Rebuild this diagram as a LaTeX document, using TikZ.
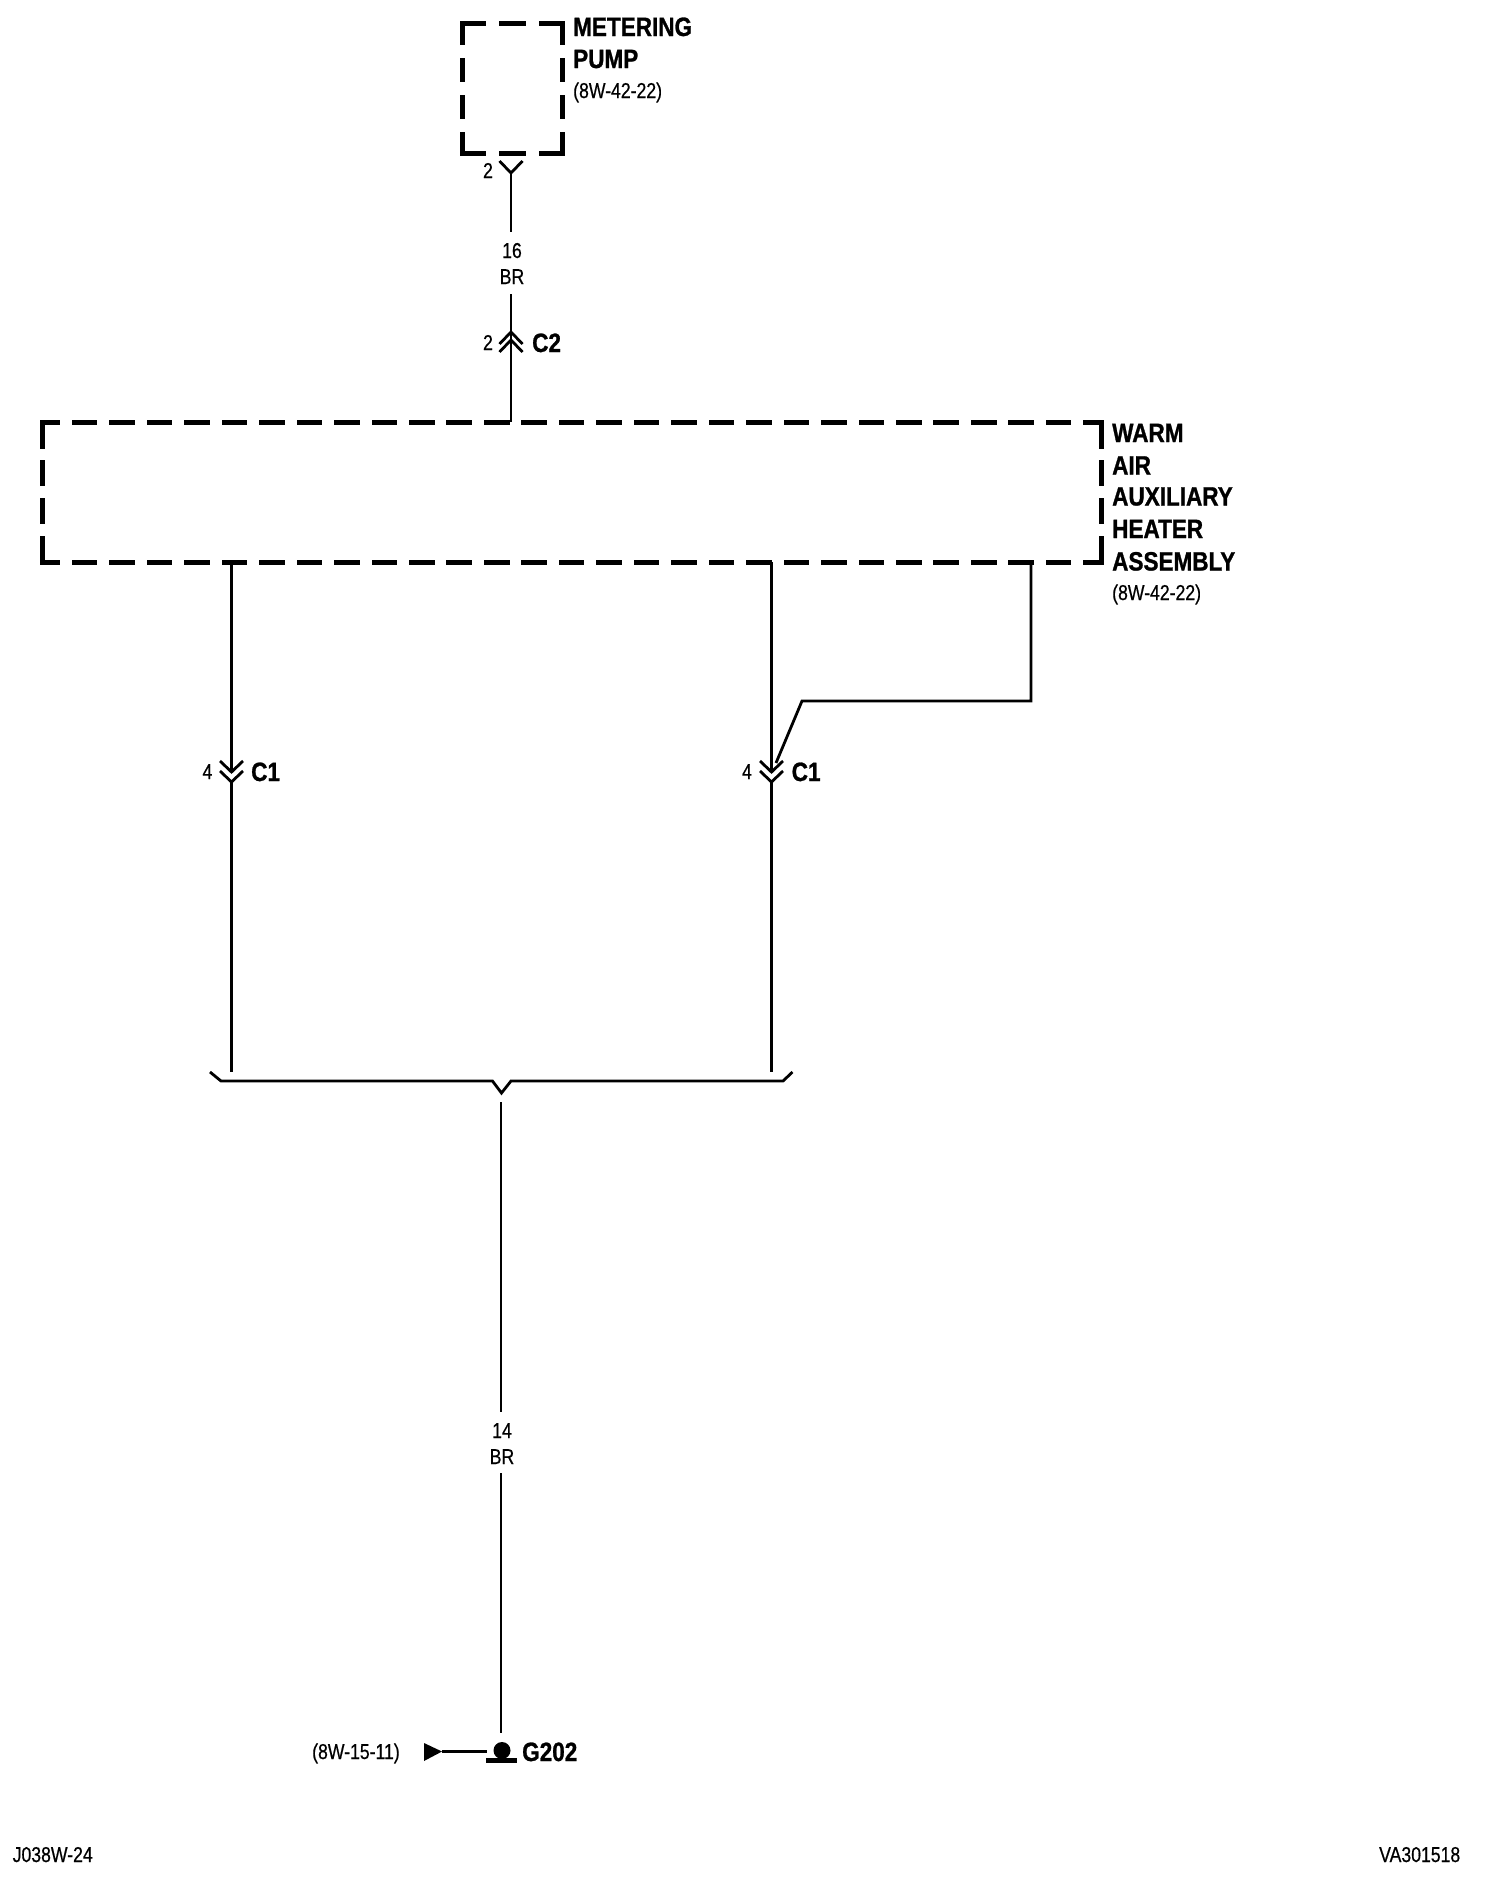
\documentclass[tikz,border=0pt]{standalone}
\usepackage{fontspec}
\setmainfont{Liberation Sans}
\newfontfamily\wirefont[FakeStretch=0.82,FakeBold=0.5]{Liberation Sans}
\newfontfamily\titlefont[FakeStretch=0.85,FakeBold=1]{Liberation Sans Bold}
\tikzset{
  wire/.style={draw,line width=2.8pt},
  box/.style={inner sep=0pt,outer sep=0pt},
  dashside/.style={draw,line width=5pt,line cap=rect},
  title/.style={inner sep=0pt,anchor=base west,align=left,font=\titlefont\fontsize{26.5}{32}\selectfont},
  ref/.style={inner sep=0pt,anchor=base west,font=\wirefont\fontsize{21.5}{26}\selectfont},
  small/.style={inner sep=0pt,font=\wirefont\fontsize{21.5}{26}\selectfont}
}
\begin{document}
\begin{tikzpicture}[x=1pt,y=-1pt]
\useasboundingbox (0,0) rectangle (1504,1882);
\node[box,minimum width=100pt,minimum height=130pt] (pump) at (512,88) {};
\node[box,minimum width=1059pt,minimum height=140pt] (heater) at (571.5,492) {};
% dashed outlines
\path[dashside,dash pattern=on 21.5pt off 18pt] (pump.north west) -- (pump.north east);
\path[dashside,dash pattern=on 21.5pt off 18pt] (pump.south west) -- (pump.south east);
\path[dashside,dash pattern=on 19pt off 18pt] (pump.north west) -- (pump.south west);
\path[dashside,dash pattern=on 19pt off 18pt] (pump.north east) -- (pump.south east);
\path[dashside,dash pattern=on 20.6pt off 16.86pt,dash phase=5.1pt] (heater.north west) -- (heater.north east);
\path[dashside,dash pattern=on 20.6pt off 16.86pt,dash phase=5.1pt] (heater.south west) -- (heater.south east);
\path[dashside,dash pattern=on 24pt off 16.5pt on 20.5pt off 17.5pt on 20.5pt off 17pt on 24pt off 20pt] (heater.north west) -- (heater.south west);
\path[dashside,dash pattern=on 24pt off 16.5pt on 20.5pt off 17.5pt on 20.5pt off 17pt on 24pt off 20pt] (heater.north east) -- (heater.south east);
% connector points
\coordinate (p2) at (511,173);
\coordinate (c2) at (511,340);
\coordinate (c2u) at (511,332);
\coordinate (c1l) at (231.5,782);
\coordinate (c1lu) at (231.5,772);
\coordinate (c1r) at (771.5,782);
\coordinate (c1ru) at (771.5,772);
\coordinate (wa) at (511,232);
\coordinate (wb) at (511,294);
\coordinate (wc) at (231.5,1072);
\coordinate (wd) at (771.5,1072);
\coordinate (we) at (501,1102);
\coordinate (wf) at (501,1412);
\coordinate (wg) at (501,1473);
\coordinate (wh) at (501,1733);
\coordinate (top) at (511,422);
\coordinate (hl) at (231.5,562);
\coordinate (hm) at (771.5,562);
\coordinate (hr) at (1031,562);
\coordinate (bend) at (1031,701);
\coordinate (bendb) at (802,701);
\coordinate (bendc) at (776,763);
% wires
\path[wire] (p2) -- (wa);
\path[wire] (wb) -- (top);
\path[wire] (hl) -- (c1lu);
\path[wire] (c1l) -- (wc);
\path[wire] (hm) -- (c1ru);
\path[wire] (c1r) -- (wd);
\path[wire,line join=miter] (hr) -- (bend) -- (bendb) -- (bendc);
\path[wire] (we) -- (wf);
\path[wire] (wg) -- (wh);
% connector marks
\path[wire] ([shift={(-11.5,-12)}]p2) -- (p2) -- ([shift={(11.5,-12)}]p2);
\foreach \c in {c2,c2u}
  \path[wire] ([shift={(-11.5,12)}]\c) -- (\c) -- ([shift={(11.5,12)}]\c);
\foreach \c in {c1l,c1lu,c1r,c1ru}
  \path[wire] ([shift={(-11.5,-11)}]\c) -- (\c) -- ([shift={(11.5,-11)}]\c);
% splice
\coordinate (sl) at (221,1081);
\coordinate (sr) at (783,1081);
\coordinate (sm) at (501.5,1093);
\path[wire,line join=miter] (210,1072) -- (sl) -- (492.5,1081) -- (sm) -- (511,1081) -- (sr) -- (792.5,1072);
% ground
\node[circle,fill,box,minimum size=17pt] (ball) at (502,1750.5) {};
\coordinate (gl) at (486,1760.5);
\coordinate (gr) at (517,1760.5);
\path[draw,line width=5pt] (gl) -- (gr);
\coordinate (tip) at (442,1751.5);
\coordinate (gw) at (487,1751.5);
\path[fill] (424,1743) -- (tip) -- (424,1761) -- cycle;
\path[wire] (tip) -- (gw);
% labels
\node[title] (pumpname) at (573,36) {METERING};
\node[title] (pumpname2) at (573,68) {PUMP};
\node[ref] (pumpref) at (573,98) {(8W-42-22)};
\node[title] (h1) at (1112,442) {WARM};
\node[title] (h2) at (1112,474.5) {AIR};
\node[title] (h3) at (1112,505.5) {AUXILIARY};
\node[title] (h4) at (1112,538) {HEATER};
\node[title] (h5) at (1112,570.5) {ASSEMBLY};
\node[ref] (heaterref) at (1112,600) {(8W-42-22)};
\node[small,anchor=base] (pin1) at (488,178) {2};
\node[small,anchor=base] (w16) at (512,258) {16};
\node[small,anchor=base] (brtop) at (512,284) {BR};
\node[small,anchor=base] (pin2) at (488,350) {2};
\node[title] (c2name) at (532,352) {C2};
\node[small,anchor=base] (pin3) at (207.5,779) {4};
\node[title] (c1name) at (251,781) {C1};
\node[small,anchor=base] (pin4) at (747,779) {4};
\node[title] (c1name2) at (791.5,781) {C1};
\node[small,anchor=base] (w14) at (502,1438) {14};
\node[small,anchor=base] (brlow) at (502,1464) {BR};
\node[ref] (gref) at (312,1759) {(8W-15-11)};
\node[title] (gname) at (522,1761) {G202};
\node[small,anchor=base west] (code) at (12.5,1862) {J038W-24};
\node[small,anchor=base west] (vacode) at (1379,1862) {VA301518};
\end{tikzpicture}
\end{document}
